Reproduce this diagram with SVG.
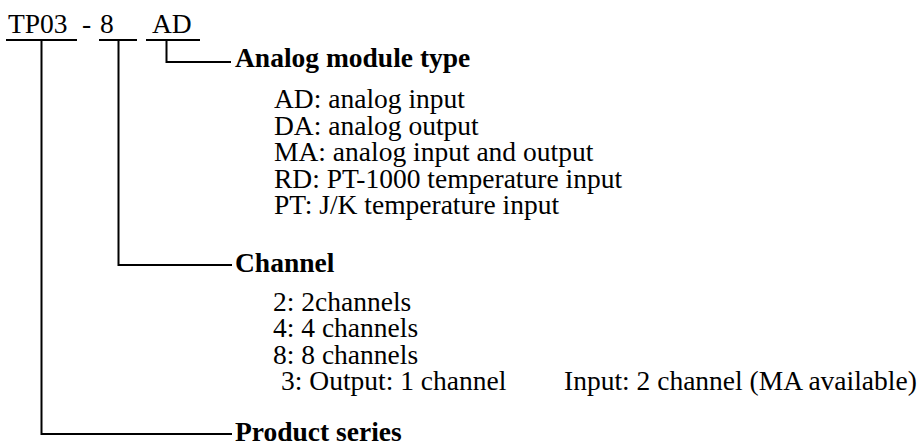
<svg xmlns="http://www.w3.org/2000/svg" width="924" height="446" viewBox="0 0 924 446">
<style>
text{font-family:"Liberation Serif","Times New Roman",serif;fill:#000;font-size:27.5px}
.b{font-weight:bold}
.ln{stroke:#000;stroke-width:2;fill:none}
</style>
<rect width="924" height="446" fill="#fff"/>
<g id="code">
<text x="8" y="33">TP03</text>
<text x="82" y="33">-</text>
<text x="100" y="33">8</text>
<text x="152" y="33">AD</text>
<line class="ln" x1="6" y1="40" x2="77" y2="40"/>
<line class="ln" x1="99" y1="40" x2="137" y2="40"/>
<line class="ln" x1="146" y1="40" x2="200" y2="40"/>
</g>
<g id="connectors">
<polyline class="ln" points="166.5,40 166.5,62 231,62"/>
<polyline class="ln" points="118.5,40 118.5,265 232,265"/>
<polyline class="ln" points="41.5,40 41.5,434 232,434"/>
</g>
<g id="type">
<text class="b" x="235" y="67">Analog module type</text>
<text x="274" y="108">AD: analog input</text>
<text x="274" y="135">DA: analog output</text>
<text x="274" y="161">MA: analog input and output</text>
<text x="274" y="188">RD: PT-1000 temperature input</text>
<text x="274" y="214">PT: J/K temperature input</text>
</g>
<g id="channel">
<text class="b" x="235" y="272">Channel</text>
<text x="273" y="311">2: 2channels</text>
<text x="273" y="337">4: 4 channels</text>
<text x="273" y="364">8: 8 channels</text>
<text x="281" y="390">3: Output: 1 channel</text>
<text x="564" y="390">Input: 2 channel (MA available)</text>
</g>
<g id="series">
<text class="b" x="235" y="441">Product series</text>
</g>
</svg>
